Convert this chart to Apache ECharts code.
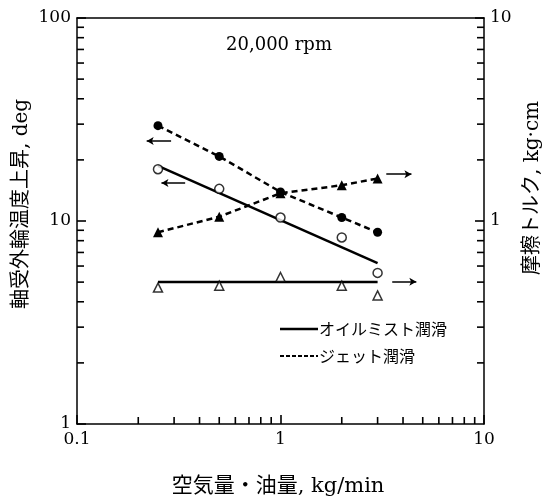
<!DOCTYPE html>
<html><head><meta charset="utf-8">
<script src="https://cdn.jsdelivr.net/npm/echarts@6/dist/echarts.min.js"></script>
<style>html,body{margin:0;padding:0;background:#fff}#c{width:543px;height:499px}</style>
</head><body><div id="c"></div>
<script>
// ---- data ----
const airOil = [0.25, 0.5, 1, 2, 3];                 // kg/min
const jetTemp = [29.5, 20.8, 13.9, 10.4, 8.8];        // deg (left axis)
const mistTemp = [18.0, 14.4, 10.4, 8.3, 5.55];       // deg (left axis)
const jetTorque = [0.88, 1.05, 1.37, 1.5, 1.62];      // kg·cm (right axis)
const mistTorque = [0.47, 0.48, 0.53, 0.48, 0.43];    // kg·cm (right axis)
const mistTempFitX = [0.25, 3];
const mistTempFitY = [18.7, 6.2];
const mistTorqueFitX = [0.25, 3];
const mistTorqueFitY = [0.5, 0.5];
const xMinorTicks = [0.2,0.3,0.4,0.5,0.6,0.7,0.8,0.9,2,3,4,5,6,7,8,9];
const leftMinorTicks = [2,3,4,5,6,7,8,9,20,30,40,50,60,70,80,90];
const rightMinorTicks = [0.2,0.3,0.4,0.5,0.6,0.7,0.8,0.9,2,3,4,5,6,7,8,9];
const titleText = '20,000 rpm';
const xName = '空気量・油量, kg/min';
const yLeftName = '軸受外輪温度上昇, deg';
const yRightName = '摩擦トルク, kg·cm';
const legendMist = 'オイルミスト潤滑';
const legendJet = 'ジェット潤滑';

const FONT = '"DejaVu Serif", "Noto Sans CJK JP", serif';
const pair = (xs, ys) => xs.map((x, i) => [x, ys[i]]);
const BLACK = '#000';

const chart = echarts.init(document.getElementById('c'), null, { renderer: 'canvas' });
const staticGraphics = [
  { type: 'text', x: 279, y: 45, style: { text: titleText, font: '18px ' + FONT, fill: BLACK, align: 'center', verticalAlign: 'middle' } },
  { type: 'text', x: 278, y: 487, style: { text: xName, font: '21px ' + FONT, fill: BLACK, align: 'center', verticalAlign: 'middle' } },
  { type: 'text', x: 22, y: 204, rotation: Math.PI / 2, style: { text: yLeftName, font: '20px ' + FONT, fill: BLACK, align: 'center', verticalAlign: 'middle' } },
  { type: 'text', x: 533, y: 188, rotation: Math.PI / 2, style: { text: yRightName, font: '20px ' + FONT, fill: BLACK, align: 'center', verticalAlign: 'middle' } },
  { type: 'line', shape: { x1: 280, y1: 329, x2: 318, y2: 329 }, style: { stroke: BLACK, lineWidth: 2.5 } },
  { type: 'text', x: 319, y: 329, style: { text: legendMist, font: '16px "Noto Sans CJK JP"', fill: BLACK, align: 'left', verticalAlign: 'middle' } },
  { type: 'line', shape: { x1: 280, y1: 356, x2: 318, y2: 356 }, style: { stroke: BLACK, lineWidth: 2, lineDash: [4, 2] } },
  { type: 'text', x: 319, y: 356, style: { text: legendJet, font: '16px "Noto Sans CJK JP"', fill: BLACK, align: 'left', verticalAlign: 'middle' } }
];
chart.setOption({
  animation: false,
  backgroundColor: '#fff',
  grid: { left: 77, right: 59, top: 18, bottom: 75 },
  xAxis: [{
    type: 'log', logBase: 10, min: 0.1, max: 10,
    axisLine: { lineStyle: { color: BLACK, width: 1.5 } },
    axisTick: { inside: true, length: 9, lineStyle: { color: BLACK, width: 1.6 } },
    axisLabel: { color: BLACK, fontFamily: FONT, fontSize: 17, margin: 7 },
    splitLine: { show: false }
  }, {
    type: 'log', logBase: 10, min: 0.1, max: 10, position: 'top',
    axisLine: { show: true, lineStyle: { color: BLACK, width: 1.5 } },
    axisTick: { show: false }, axisLabel: { show: false }, splitLine: { show: false }
  }],
  yAxis: [{
    type: 'log', logBase: 10, min: 1, max: 100,
    axisLine: { show: true, lineStyle: { color: BLACK, width: 1.5 } },
    axisTick: { show: true, inside: true, length: 9, lineStyle: { color: BLACK, width: 1.6 } },
    axisLabel: { color: BLACK, fontFamily: FONT, fontSize: 17, margin: 6 },
    splitLine: { show: false }
  }, {
    type: 'log', logBase: 10, min: 0.1, max: 10, position: 'right',
    axisLine: { show: true, lineStyle: { color: BLACK, width: 1.5 } },
    axisTick: { show: true, inside: true, length: 9, lineStyle: { color: BLACK, width: 1.6 } },
    axisLabel: { color: BLACK, fontFamily: FONT, fontSize: 17, margin: 6, showMinLabel: false },
    splitLine: { show: false }
  }],
  series: [
    {
      name: 'jetTemp', type: 'line', yAxisIndex: 0, data: pair(airOil, jetTemp),
      symbol: 'circle', symbolSize: 9, itemStyle: { color: BLACK },
      lineStyle: { color: BLACK, width: 2.5, type: [6, 4] },
      markLine: {
        silent: true, symbol: ['none', 'arrow'], symbolSize: [6, 7],
        label: { show: false }, lineStyle: { color: BLACK, width: 1.5, type: 'solid' },
        data: [
          [{ coord: [0.29, 24.8] }, { coord: [0.22, 24.8] }],
          [{ coord: [0.34, 15.4] }, { coord: [0.26, 15.4] }]
        ]
      }
    },
    {
      name: 'mistTempFit', type: 'line', yAxisIndex: 0, data: pair(mistTempFitX, mistTempFitY),
      symbol: 'none', lineStyle: { color: BLACK, width: 2.5 }
    },
    {
      name: 'mistTemp', type: 'scatter', yAxisIndex: 0, data: pair(airOil, mistTemp),
      symbol: 'circle', symbolSize: 9, itemStyle: { color: '#fff', borderColor: BLACK, borderWidth: 1.5 }, z: 5
    },
    {
      name: 'jetTorque', type: 'line', yAxisIndex: 1, data: pair(airOil, jetTorque),
      symbol: 'triangle', symbolSize: 10, itemStyle: { color: BLACK },
      lineStyle: { color: BLACK, width: 2.5, type: [6, 4] },
      markLine: {
        silent: true, symbol: ['none', 'arrow'], symbolSize: [6, 7],
        label: { show: false }, lineStyle: { color: BLACK, width: 1.5, type: 'solid' },
        data: [
          [{ coord: [3.31, 1.7] }, { coord: [4.4, 1.7] }],
          [{ coord: [3.54, 0.502] }, { coord: [4.65, 0.502] }]
        ]
      }
    },
    {
      name: 'mistTorqueFit', type: 'line', yAxisIndex: 1, data: pair(mistTorqueFitX, mistTorqueFitY),
      symbol: 'none', lineStyle: { color: BLACK, width: 2.5 }
    },
    {
      name: 'mistTorque', type: 'scatter', yAxisIndex: 1, data: pair(airOil, mistTorque),
      symbol: 'triangle', symbolSize: 9, itemStyle: { color: '#fff', borderColor: BLACK, borderWidth: 1.5 }, z: 5
    }
  ],
  graphic: staticGraphics
});

// minor ticks (2..9 per decade), positioned through the chart's own log scales
const tickGraphics = [];
const addTick = (p, dx, dy) => tickGraphics.push({
  type: 'line',
  shape: { x1: p[0], y1: p[1], x2: p[0] + dx, y2: p[1] + dy },
  style: { stroke: BLACK, lineWidth: 1.6 }
});
xMinorTicks.forEach(v => addTick(chart.convertToPixel({ xAxisIndex: 0, yAxisIndex: 0 }, [v, 1]), 0, -7));
leftMinorTicks.forEach(v => addTick(chart.convertToPixel({ xAxisIndex: 0, yAxisIndex: 0 }, [0.1, v]), 7, 0));
rightMinorTicks.forEach(v => addTick(chart.convertToPixel({ xAxisIndex: 0, yAxisIndex: 1 }, [10, v]), -7, 0));
chart.setOption({ graphic: staticGraphics.concat(tickGraphics) });
</script></body></html>
